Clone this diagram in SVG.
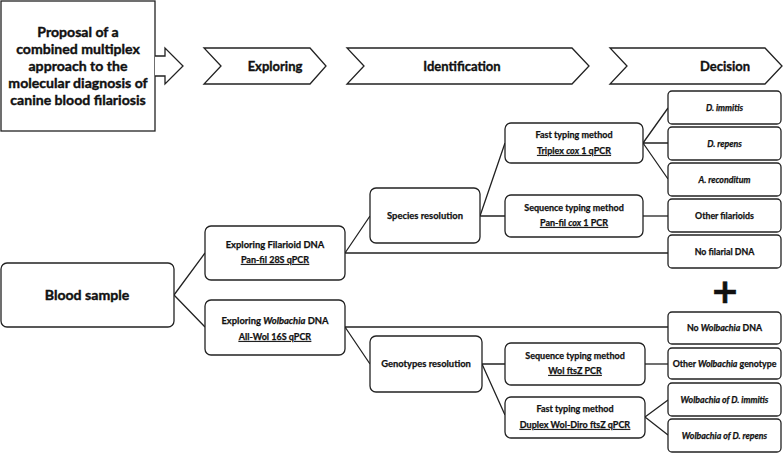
<svg xmlns="http://www.w3.org/2000/svg" width="784" height="454" viewBox="0 0 784 454">
<style>
.sh{fill:#fff;stroke:#222;stroke-width:1.3;}
.bx{fill:#fff;stroke:#222;stroke-width:1.3;}
.ln{fill:none;stroke:#222;stroke-width:1.3;}
text{font-family:Lato,"Open Sans","Liberation Sans",sans-serif;font-weight:bold;fill:#111;text-anchor:middle;stroke:#111;stroke-width:0.25;}
.t1{font-size:14.1px;stroke-width:0.4;}
.t2{font-size:13px;stroke-width:0.35;}
.t3{font-size:9.4px;}
.t4{font-size:9px;}
.t5{font-size:8.8px;}
.u{text-decoration:underline;}
.i{font-style:italic;}
</style>
<rect width="784" height="454" fill="#fff"/>
<g id="title">
<rect class="sh" x="1" y="1" width="154" height="130"/>
<text class="t1" x="78" y="37">Proposal of a</text>
<text class="t1" x="78" y="54">combined multiplex</text>
<text class="t1" x="78" y="71">approach to the</text>
<text class="t1" x="78" y="88">molecular diagnosis of</text>
<text class="t1" x="78" y="105">canine blood filariosis</text>
</g>
<g id="title-arrow">
<path class="sh" d="M155,56 H165 V48 L183,66 L165,84 V76 H155"/>
</g>
<g id="stage-exploring">
<path class="sh" d="M204,48 H310 L326,66 L310,84 H204 L221,66 Z"/>
<text class="t2" x="275" y="71">Exploring</text>
</g>
<g id="stage-identification">
<path class="sh" d="M347,48 H572 L589,66 L572,84 H347 L364,66 Z"/>
<text class="t2" x="462" y="71">Identification</text>
</g>
<g id="stage-decision">
<path class="sh" d="M610,48 H765 L782,66 L765,84 H610 L627,66 Z"/>
<text class="t2" x="725" y="71">Decision</text>
</g>
<g id="connectors">
<path class="ln" d="M174,295 L205,253 M174,295 L205,327"/>
<path class="ln" d="M345,253 L370,216 M345,253 H668"/>
<path class="ln" d="M480,216 L505,143 M480,216 H505"/>
<path class="ln" d="M643,143 L668,108 M643,143 H668 M643,143 L668,179"/>
<path class="ln" d="M643,216 H668"/>
<path class="ln" d="M345,327 H668 M345,327 L370,364"/>
<path class="ln" d="M482,364 H505 M482,364 L505,415"/>
<path class="ln" d="M645,364 H668"/>
<path class="ln" d="M645,417 L668,400 M645,417 L668,435"/>
</g>
<g id="blood-sample">
<rect class="bx" x="1" y="263" width="173" height="64" rx="6"/>
<text class="t1" x="87" y="300">Blood sample</text>
</g>
<g id="exploring-filarioid">
<rect class="bx" x="205" y="226" width="140" height="54" rx="6"/>
<text class="t3" x="275" y="248">Exploring Filarioid DNA</text>
<text class="t4 u" x="275" y="263">Pan-fil 28S qPCR</text>
</g>
<g id="exploring-wolbachia">
<rect class="bx" x="205" y="300" width="140" height="55" rx="6"/>
<text class="t3" x="275" y="324">Exploring <tspan class="i">Wolbachia</tspan> DNA</text>
<text class="t4 u" x="275" y="340">All-Wol 16S qPCR</text>
</g>
<g id="species-resolution">
<rect class="bx" x="370" y="188" width="110" height="55" rx="6"/>
<text class="t3" x="425" y="219">Species resolution</text>
</g>
<g id="fast-typing-triplex">
<rect class="bx" x="505" y="123" width="138" height="40" rx="6"/>
<text class="t4" x="574" y="138">Fast typing method</text>
<text class="t4 u" x="574" y="154">Triplex <tspan class="i">cox</tspan> 1 qPCR</text>
</g>
<g id="sequence-typing-panfil">
<rect class="bx" x="505" y="195" width="138" height="42" rx="6"/>
<text class="t4" x="574" y="211">Sequence typing method</text>
<text class="t4 u" x="574" y="226">Pan-fil <tspan class="i">cox</tspan> 1 PCR</text>
</g>
<g id="genotypes-resolution">
<rect class="bx" x="370" y="336" width="112" height="56" rx="6"/>
<text class="t3" x="426" y="367">Genotypes resolution</text>
</g>
<g id="sequence-typing-wol">
<rect class="bx" x="505" y="343" width="140" height="42" rx="6"/>
<text class="t4" x="575" y="359">Sequence typing method</text>
<text class="t4 u" x="575" y="374">Wol ftsZ PCR</text>
</g>
<g id="fast-typing-duplex">
<rect class="bx" x="505" y="397" width="140" height="41" rx="6"/>
<text class="t4" x="575" y="412">Fast typing method</text>
<text class="t4 u" x="575" y="428">Duplex Wol-Diro ftsZ qPCR</text>
</g>
<g id="d-immitis">
<rect class="bx" x="668" y="91" width="113" height="33" rx="4"/>
<text class="t5 i" x="724.5" y="111">D. immitis</text>
</g>
<g id="d-repens">
<rect class="bx" x="668" y="127" width="113" height="33" rx="4"/>
<text class="t5 i" x="724.5" y="147">D. repens</text>
</g>
<g id="a-reconditum">
<rect class="bx" x="668" y="163" width="113" height="33" rx="4"/>
<text class="t5 i" x="724.5" y="183">A. reconditum</text>
</g>
<g id="other-filarioids">
<rect class="bx" x="668" y="199" width="113" height="33" rx="4"/>
<text class="t5" x="724.5" y="219">Other filarioids</text>
</g>
<g id="no-filarial">
<rect class="bx" x="668" y="235" width="113" height="33" rx="4"/>
<text class="t5" x="724.5" y="255">No filarial DNA</text>
</g>
<g id="plus">
<text x="725" y="303" style="font-size:34px;font-family:'DejaVu Sans',sans-serif;stroke-width:0.6;">+</text>
</g>
<g id="no-wolbachia">
<rect class="bx" x="668" y="312" width="113" height="32" rx="4"/>
<text class="t5" x="724.5" y="331">No <tspan class="i">Wolbachia</tspan> DNA</text>
</g>
<g id="other-wolbachia">
<rect class="bx" x="668" y="348" width="113" height="31" rx="4"/>
<text class="t5" x="724.5" y="367">Other <tspan class="i">Wolbachia</tspan> genotype</text>
</g>
<g id="wolbachia-immitis">
<rect class="bx" x="668" y="383" width="113" height="33" rx="4"/>
<text class="t5 i" x="724.5" y="403">Wolbachia of D. immitis</text>
</g>
<g id="wolbachia-repens">
<rect class="bx" x="668" y="419" width="113" height="33" rx="4"/>
<text class="t5 i" x="724.5" y="439">Wolbachia of D. repens</text>
</g>
</svg>
